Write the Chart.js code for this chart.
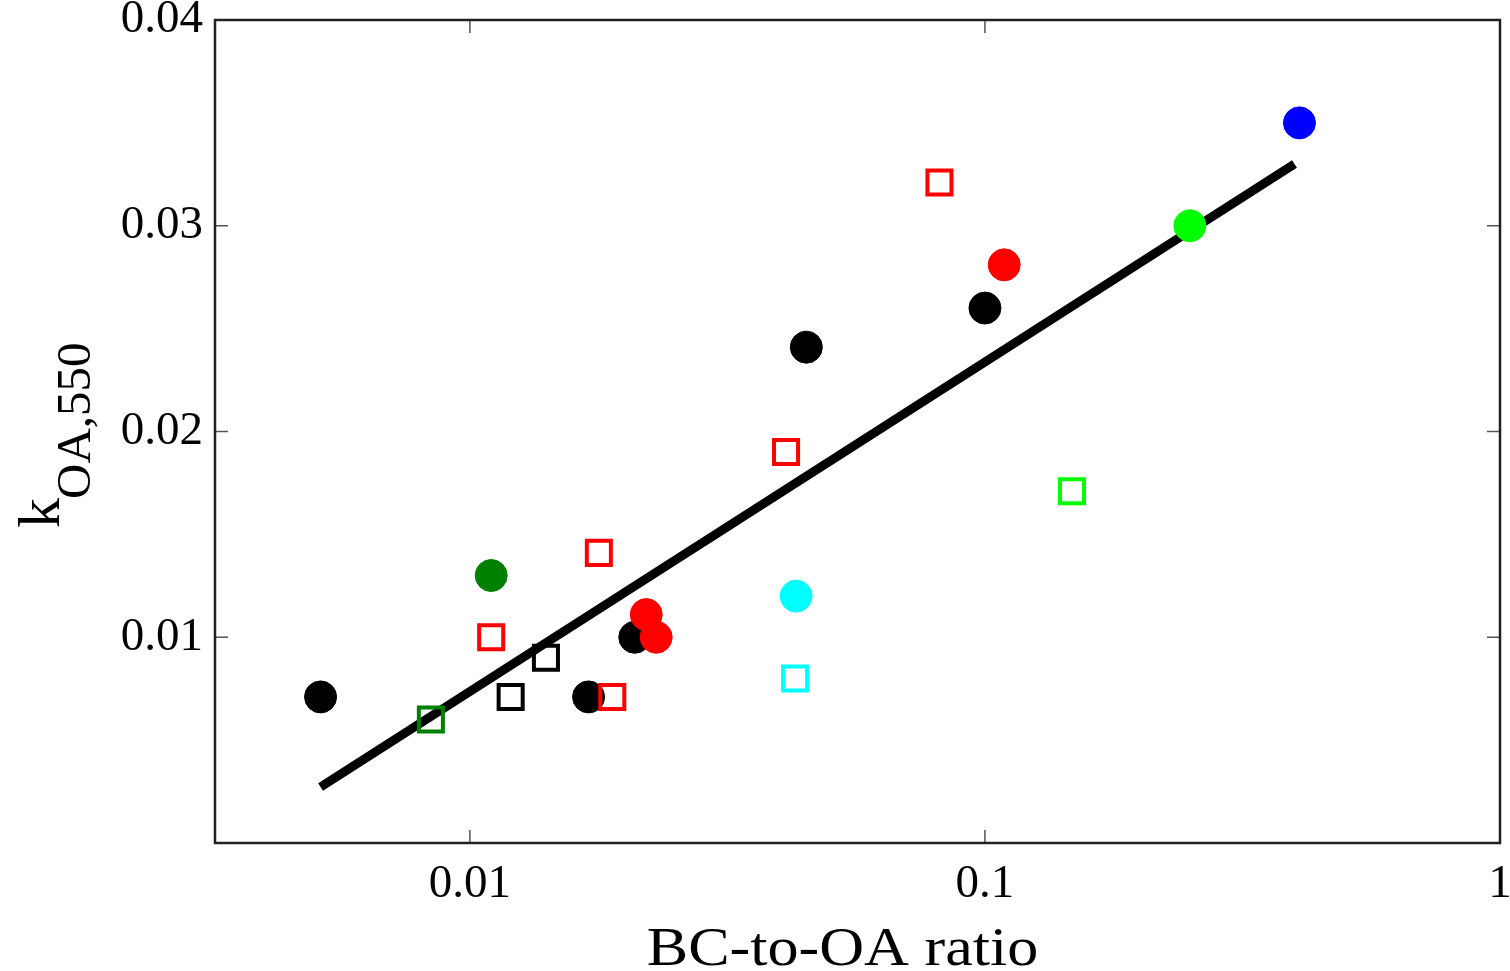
<!DOCTYPE html>
<html>
<head>
<meta charset="utf-8">
<title>k_OA,550 vs BC-to-OA ratio</title>
<script src="https://cdn.jsdelivr.net/npm/chart.js@4.4.1/dist/chart.umd.min.js"></script>
<style>
  html, body { margin: 0; padding: 0; background: #fff; }
  canvas { display: block; }
</style>
</head>
<body>
<canvas id="myChart" width="1510" height="971"></canvas>
<script>
/* global Chart */

// axis ticks and titles
const xTicks = [0.01, 0.1, 1];
const yTicks = [0.01, 0.02, 0.03, 0.04];
const xRange = [0.0032, 1];
const yRange = [0, 0.04];
const xTitle = 'BC-to-OA ratio';

// filled circles
const blackDotX = [0.00513, 0.0170, 0.0209, 0.0450, 0.100];
const blackDotY = [0.0071, 0.0071, 0.0100, 0.0241, 0.0260];
const redDotX = [0.0220, 0.0230, 0.109];
const redDotY = [0.0111, 0.0100, 0.0281];
const darkGreenDotX = [0.0110];
const darkGreenDotY = [0.0130];
const cyanDotX = [0.0430];
const cyanDotY = [0.0120];
const limeDotX = [0.250];
const limeDotY = [0.0300];
const blueDotX = [0.408];
const blueDotY = [0.0350];

// open squares
const redBoxX = [0.0110, 0.0178, 0.0189, 0.0411, 0.0816];
const redBoxY = [0.0100, 0.0141, 0.0071, 0.0190, 0.0321];
const blackBoxX = [0.0120, 0.01405];
const blackBoxY = [0.0071, 0.0090];
const darkGreenBoxX = [0.0084];
const darkGreenBoxY = [0.0060];
const cyanBoxX = [0.0428];
const cyanBoxY = [0.0080];
const limeBoxX = [0.1476];
const limeBoxY = [0.0171];

// fitted line, end points
const fitX = [0.00513, 0.399];
const fitY = [0.00272, 0.0330];

function pts(xs, ys) {
  return xs.map((x, i) => ({ x: x, y: ys[i] }));
}

function dots(xs, ys, color) {
  return {
    data: pts(xs, ys),
    pointStyle: 'circle',
    pointRadius: 16,
    pointHoverRadius: 16,
    backgroundColor: color,
    borderColor: color,
    borderWidth: 1,
    showLine: false
  };
}

function boxes(xs, ys, color) {
  return {
    data: pts(xs, ys),
    pointStyle: 'rect',
    pointRadius: 17,
    pointHoverRadius: 17,
    backgroundColor: 'rgba(0,0,0,0)',
    borderColor: color,
    borderWidth: 4,
    showLine: false
  };
}

const SERIF = '"Liberation Serif", "Times New Roman", serif';

// box round the plot, inward ticks on all four sides, axis titles
const framePlugin = {
  id: 'frame',
  afterDraw(chart) {
    const ctx = chart.ctx;
    const a = chart.chartArea;
    const x = chart.scales.x;
    const y = chart.scales.y;
    ctx.save();
    ctx.strokeStyle = '#555';
    ctx.lineWidth = 1.5;
    ctx.beginPath();
    xTicks.forEach(v => {
      const px = x.getPixelForValue(v);
      ctx.moveTo(px, a.bottom); ctx.lineTo(px, a.bottom - 13);
      ctx.moveTo(px, a.top); ctx.lineTo(px, a.top + 13);
    });
    yTicks.forEach(v => {
      const py = y.getPixelForValue(v);
      ctx.moveTo(a.left, py); ctx.lineTo(a.left + 13, py);
      ctx.moveTo(a.right, py); ctx.lineTo(a.right - 13, py);
    });
    ctx.stroke();
    ctx.strokeStyle = '#222';
    ctx.lineWidth = 2.5;
    ctx.strokeRect(a.left, a.top, a.right - a.left, a.bottom - a.top);

    ctx.fillStyle = '#000';
    ctx.textBaseline = 'alphabetic';

    ctx.save();
    ctx.translate((a.left + a.right) / 2 - 15, a.bottom + 122);
    ctx.scale(1.15, 1);
    ctx.font = '54px ' + SERIF;
    ctx.textAlign = 'center';
    ctx.fillText(xTitle, 0, 0);
    ctx.restore();

    ctx.save();
    ctx.translate(59, 528);
    ctx.rotate(-Math.PI / 2);
    ctx.textAlign = 'left';
    ctx.font = '60px ' + SERIF;
    ctx.fillText('k', 0, 0);
    const kw = ctx.measureText('k').width;
    ctx.font = '49px ' + SERIF;
    ctx.fillText('OA,550', kw - 1, 31);
    ctx.restore();

    ctx.restore();
  }
};

const ctx = document.getElementById('myChart').getContext('2d');
const myChart = new Chart(ctx, {
  type: 'scatter',
  data: {
    // first dataset is drawn on top
    datasets: [
      boxes(redBoxX, redBoxY, '#ff0000'),
      dots(redDotX, redDotY, '#ff0000'),
      boxes(blackBoxX, blackBoxY, '#000000'),
      dots(blackDotX, blackDotY, '#000000'),
      boxes(darkGreenBoxX, darkGreenBoxY, '#008000'),
      dots(darkGreenDotX, darkGreenDotY, '#008000'),
      boxes(cyanBoxX, cyanBoxY, '#00ffff'),
      dots(cyanDotX, cyanDotY, '#00ffff'),
      boxes(limeBoxX, limeBoxY, '#00ff00'),
      dots(limeDotX, limeDotY, '#00ff00'),
      dots(blueDotX, blueDotY, '#0000ff'),
      {
        data: pts(fitX, fitY),
        showLine: true,
        borderColor: '#000',
        borderWidth: 9,
        pointRadius: 0,
        pointHoverRadius: 0,
        borderCapStyle: 'butt'
      }
    ]
  },
  options: {
    responsive: false,
    animation: false,
    events: [],
    layout: { autoPadding: false, padding: { left: 0, right: 10, top: 20, bottom: 0 } },
    plugins: {
      legend: { display: false },
      tooltip: { enabled: false }
    },
    scales: {
      x: {
        type: 'logarithmic',
        min: xRange[0],
        max: xRange[1],
        grid: { display: false, drawTicks: false },
        border: { display: false },
        afterBuildTicks: s => { s.ticks = xTicks.map(v => ({ value: v })); },
        afterFit: s => { s.height = 128; s.paddingLeft = 0; s.paddingRight = 0; },
        ticks: {
          padding: 13,
          color: '#000',
          maxRotation: 0,
          font: { family: SERIF, size: 47 },
          callback: v => String(v)
        }
      },
      y: {
        min: yRange[0],
        max: yRange[1],
        grid: { display: false, drawTicks: false },
        border: { display: false },
        afterBuildTicks: s => { s.ticks = yTicks.map(v => ({ value: v })); },
        afterFit: s => { s.width = 215; s.paddingTop = 0; s.paddingBottom = 0; },
        ticks: {
          padding: 12,
          color: '#000',
          font: { family: SERIF, size: 47 },
          callback: v => String(v)
        }
      }
    }
  },
  plugins: [framePlugin]
});
</script>
</body>
</html>
